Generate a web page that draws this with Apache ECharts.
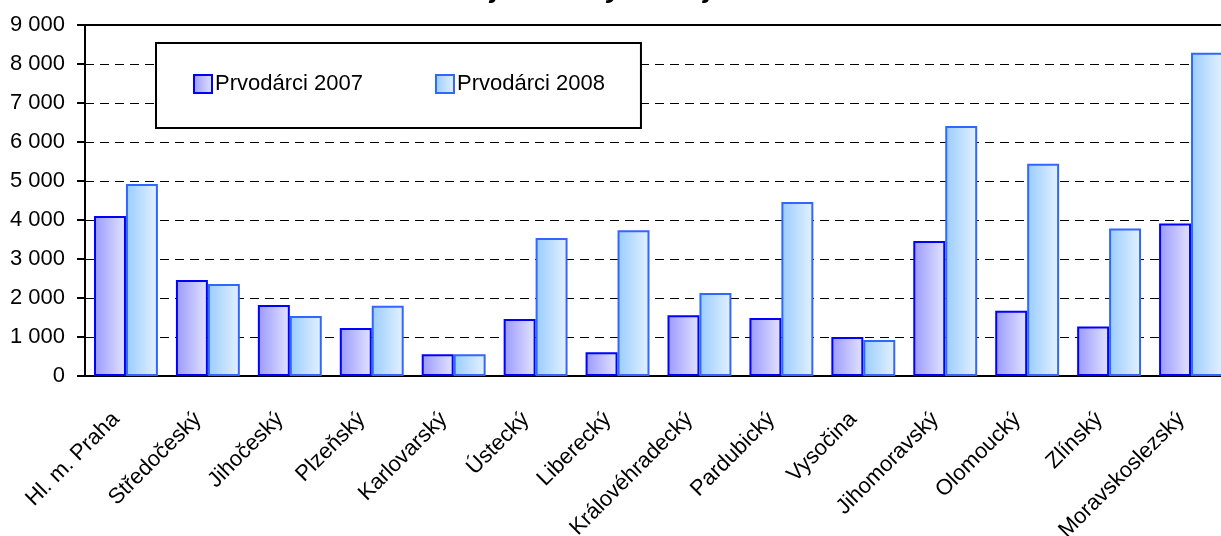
<!DOCTYPE html>
<html>
<head>
<meta charset="utf-8">
<script src="https://cdn.jsdelivr.net/npm/echarts@6/dist/echarts.min.js"></script>
<style>
  html, body { margin: 0; padding: 0; background: #fff; }
  #chart { width: 1221px; height: 536px; }
</style>
</head>
<body>
<div id="chart"></div>
<script>
// kraje
const regions = ['Hl. m. Praha', 'Středočeský', 'Jihočeský', 'Plzeňský', 'Karlovarský', 'Ústecký', 'Liberecký',
  'Královéhradecký', 'Pardubický', 'Vysočina', 'Jihomoravský', 'Olomoucký', 'Zlínský', 'Moravskoslezský'];
const donors2007 = [4100, 2460, 1820, 1230, 560, 1460, 610, 1560, 1490, 1000, 3460, 1670, 1270, 3910];
const donors2008 = [4920, 2360, 1540, 1800, 560, 3540, 3740, 2130, 4460, 920, 6410, 5440, 3780, 8290];
const seriesNames = ['Prvodárci 2007', 'Prvodárci 2008'];

const font = 'Arial, "Liberation Sans", sans-serif';

function grad(from, to) {
  return new echarts.graphic.LinearGradient(0, 0, 1, 0, [
    { offset: 0, color: from },
    { offset: 1, color: to }
  ]);
}

const chart = echarts.init(document.getElementById('chart'));
chart.setOption({
  animation: false,
  backgroundColor: '#fff',
  textStyle: { fontFamily: font },
  title: {
    text: 'v jednotlivých krajích ČR',
    left: 630,
    top: -30,
    textAlign: 'center',
    textStyle: { fontFamily: font, fontSize: 28, fontWeight: 'bold', fontStyle: 'italic', color: '#000' }
  },
  legend: {
    data: seriesNames,
    icon: 'rect',
    left: 156,
    top: 43,
    padding: [30, 36, 33, 37],
    itemGap: 72,
    itemWidth: 18,
    itemHeight: 18,
    itemStyle: { borderWidth: 2 },
    backgroundColor: '#fff',
    borderColor: '#000',
    borderWidth: 2,
    textStyle: { fontFamily: font, fontSize: 22, color: '#000', padding: [0, 0, 0, -2] }
  },
  grid: {
    left: 85,
    right: -11,
    top: 25,
    bottom: 160,
    show: true,
    borderColor: '#000',
    borderWidth: 2,
    containLabel: false,
    outerBoundsMode: 'none'
  },
  xAxis: {
    type: 'category',
    data: regions,
    axisLine: { lineStyle: { color: '#000', width: 2 } },
    axisTick: { length: 8, lineStyle: { color: '#000', width: 2 } },
    axisLabel: {
      interval: 0,
      rotate: 45,
      margin: 30,
      padding: [0, 14, 0, 0],
      color: '#000',
      fontFamily: font,
      fontSize: 22
    }
  },
  yAxis: {
    type: 'value',
    min: 0,
    max: 9000,
    interval: 1000,
    axisLine: { show: true, lineStyle: { color: '#000', width: 2 } },
    axisTick: { show: true, length: 8, lineStyle: { color: '#000', width: 2 } },
    axisLabel: {
      margin: 20,
      color: '#000',
      fontFamily: font,
      fontSize: 22,
      formatter: v => String(v).replace(/\B(?=(\d{3})+(?!\d))/g, ' ')
    },
    splitLine: { lineStyle: { color: '#000', type: [9, 6], width: 1 } }
  },
  series: [
    {
      name: seriesNames[0],
      type: 'bar',
      data: donors2007,
      barGap: '0%',
      barCategoryGap: '22%',
      itemStyle: { color: grad('#9999ff', '#e4e4ff'), borderColor: '#0000ff', borderWidth: 2 }
    },
    {
      name: seriesNames[1],
      type: 'bar',
      data: donors2008,
      barGap: '0%',
      barCategoryGap: '22%',
      itemStyle: { color: grad('#99ccff', '#e4f2ff'), borderColor: '#3366ff', borderWidth: 2 }
    }
  ]
});
</script>
</body>
</html>
